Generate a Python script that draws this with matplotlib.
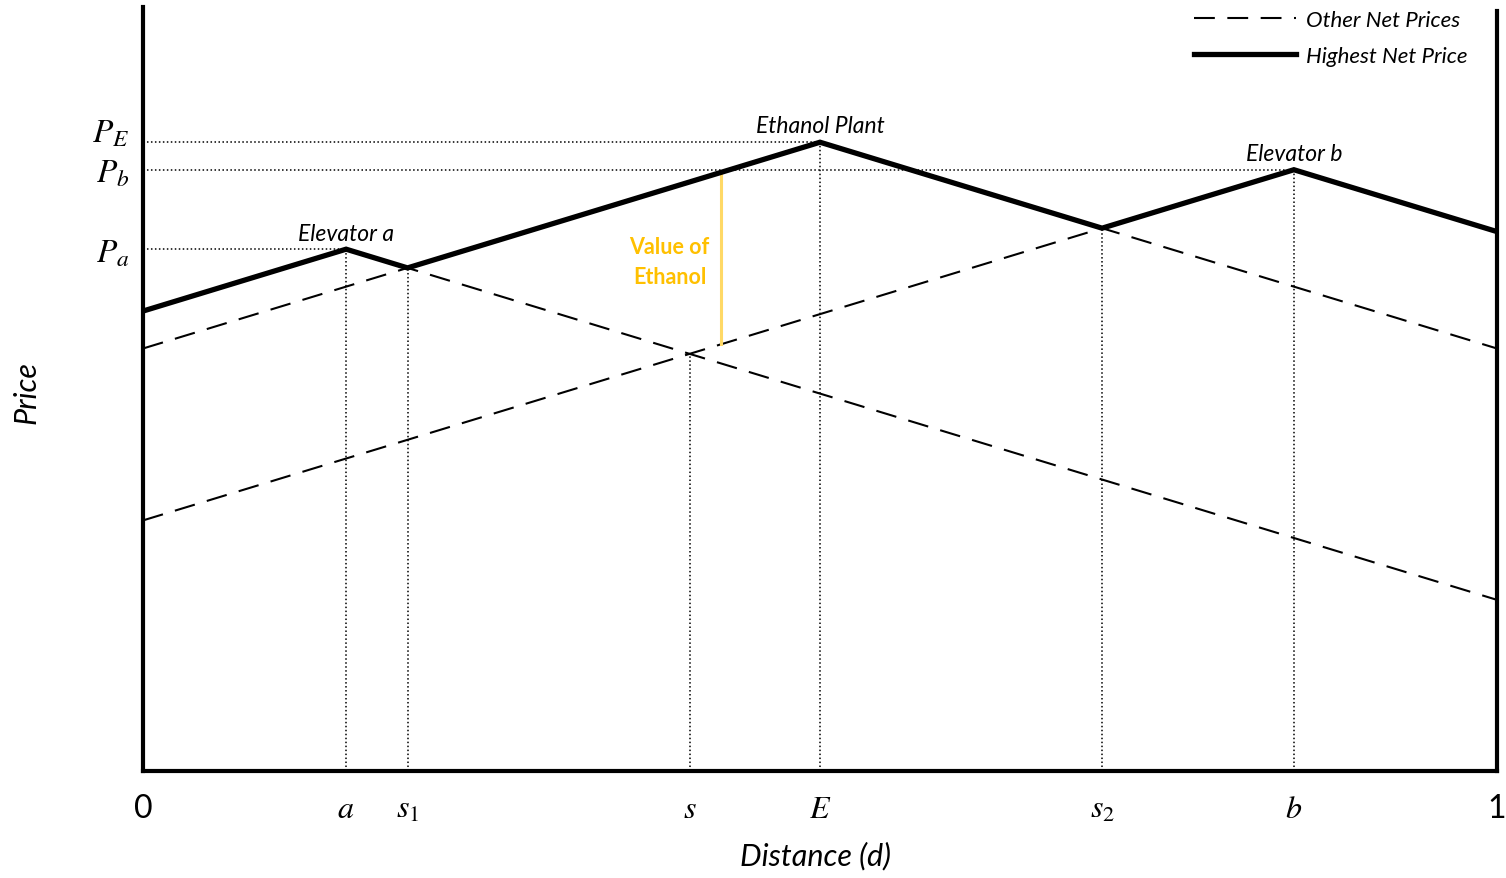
import matplotlib.pyplot as plt
import matplotlib.transforms as mtransforms
import numpy as np

plt.rcParams['font.family'] = ['Lato', 'DejaVu Sans']
plt.rcParams['mathtext.fontset'] = 'stix'

# market locations along the line segment and their prices
names = ["Elevator a", "Ethanol Plant", "Elevator b"]
loc = np.array([0.15, 0.5, 0.85])
price = np.array([0.683, 0.823, 0.787])
t = 0.54  # transport cost per unit distance
price_labels = [r"$P_a$", r"$P_E$", r"$P_b$"]
value_x = 0.427  # where the "value of ethanol" bar is drawn


def net(i, x):
    return price[i] - t * np.abs(np.asarray(x) - loc[i])


def cross(i, j):
    # crossing of the right arm of i with the left arm of j
    return (price[i] - price[j] + t * (loc[i] + loc[j])) / (2 * t)


s1 = cross(0, 1)
s = cross(0, 2)
s2 = cross(1, 2)

fig = plt.figure(figsize=(15.06, 8.79), dpi=100)
ax = fig.add_axes([143 / 1506, 1 - 772 / 879, 1354 / 1506, 764 / 879])
ax.set_xlim(0, 1)
ax.set_ylim(0, 1)

# all net price lines dashed
xx = np.sort(np.concatenate([[0, 1], loc]))
for i in range(3):
    ax.plot(xx, net(i, xx), color="black", lw=1.5, dashes=(10, 6), zorder=2)

# highest net price (upper envelope)
xe = np.sort(np.concatenate([[0, 1], loc, [s1, s2]]))
env = np.max([net(i, xe) for i in range(3)], axis=0)
ax.plot(xe, env, color="black", lw=3.8, solid_joinstyle="miter", zorder=4)

# dotted guides
dot = dict(color="black", lw=1.1, linestyle=(0, (1, 1.6)), zorder=1)
for i in range(3):
    ax.plot([0, loc[i]], [price[i], price[i]], **dot)
    ax.plot([loc[i], loc[i]], [0, price[i]], **dot)
for xv, yv in [(s1, net(0, s1)), (s, net(0, s)), (s2, net(1, s2))]:
    ax.plot([xv, xv], [0, yv], **dot)

# value of ethanol
vals = sorted([net(i, value_x) for i in range(3)])
ax.plot([value_x, value_x], [vals[1], vals[2]], color="#FFD966", lw=2.2, zorder=3)
ax.text(value_x - 0.038, 0.667, "Value of\nEthanol", color="#FFC000", fontsize=15.5,
        fontweight="bold", ha="center", va="center", linespacing=1.5)

# market labels
offs = [0.012, 0.014, 0.013]
for i in range(3):
    ax.text(loc[i], price[i] + offs[i], names[i], fontsize=16.5, style="italic",
            ha="center", va="baseline")

# axes
for side in ["left", "bottom", "right"]:
    ax.spines[side].set_linewidth(3)
ax.spines["top"].set_visible(False)
ax.spines["right"].set_bounds(0, 0.995)

ax.set_xticks([0, loc[0], s1, s, loc[1], s2, loc[2], 1])
ax.set_xticklabels(["0", r"$a$", r"$s_1$", r"$s$", r"$E$", r"$s_2$", r"$b$", "1"], fontsize=23)
ax.set_yticks(price)
ax.set_yticklabels(price_labels, fontsize=24)
ax.tick_params(axis="x", length=0, pad=16)
ax.tick_params(axis="y", length=0, pad=10)
# P_E label sits a little above its line
lab = ax.get_yticklabels()[1]
lab.set_transform(lab.get_transform() + mtransforms.ScaledTranslation(0, 9 / 72, fig.dpi_scale_trans))

ax.set_xlabel("Distance (d)", fontsize=22, style="italic")
ax.set_ylabel("Price", fontsize=22, style="italic")
ax.xaxis.set_label_coords(0.497, -0.091)
ax.yaxis.set_label_coords(-0.076, 0.497)

# legend
h1, = ax.plot([], [], color="black", lw=1.5, dashes=(10, 6))
h2, = ax.plot([], [], color="black", lw=3.8)
ax.legend([h1, h2], ["Other Net Prices", "Highest Net Price"], loc="upper right",
          bbox_to_anchor=(0.993, 1.022), frameon=False, handlelength=4.6,
          prop=dict(size=16, style="italic"), labelspacing=0.7, handletextpad=0.45)

fig.savefig("out.png", dpi=100)
